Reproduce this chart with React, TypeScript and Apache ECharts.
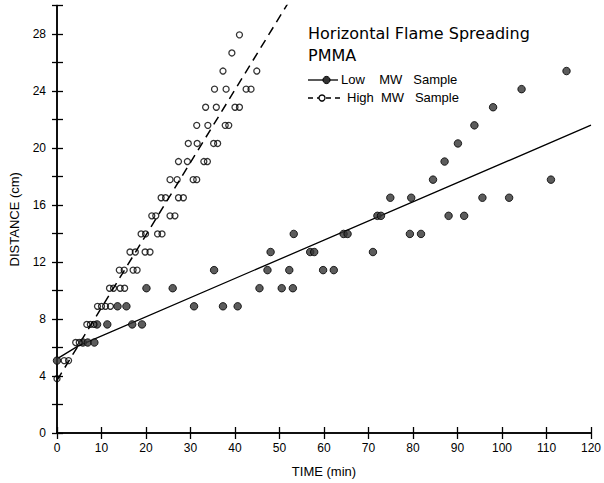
import React, { useEffect, useRef } from "react";
import * as echarts from "echarts";

// Low MW sample (filled circles): [time (min), distance (cm)]
const lowMW: number[][] = [
  [0, 5.08],
  [5.8, 6.35], [6.9, 6.35], [8.4, 6.35],
  [9.0, 7.62], [11.3, 7.62], [16.9, 7.62], [19.1, 7.62],
  [13.6, 8.89], [15.6, 8.89], [30.8, 8.89], [37.3, 8.89], [40.6, 8.89],
  [20.1, 10.16], [26.0, 10.16], [45.5, 10.16], [50.5, 10.16], [53.0, 10.16],
  [35.3, 11.43], [47.3, 11.43], [52.2, 11.43], [59.8, 11.43], [62.2, 11.43],
  [48.0, 12.7], [56.9, 12.7], [57.8, 12.7], [71.0, 12.7],
  [53.2, 13.97], [64.4, 13.97], [65.3, 13.97], [79.3, 13.97], [81.8, 13.97],
  [72.0, 15.24], [72.8, 15.24], [88.0, 15.24], [91.5, 15.24],
  [74.9, 16.51], [79.6, 16.51], [95.6, 16.51], [101.6, 16.51],
  [84.5, 17.78], [111.0, 17.78],
  [87.1, 19.05],
  [90.1, 20.32],
  [93.8, 21.59],
  [98.0, 22.86],
  [104.4, 24.13],
  [114.5, 25.4],
];

// High MW sample (open circles): [time (min), distance (cm)]
const highMW: number[][] = [
  [0, 3.81],
  [1.6, 5.08], [2.6, 5.08],
  [4.2, 6.35], [5.0, 6.35],
  [6.7, 7.62], [7.5, 7.62], [8.3, 7.62],
  [9.1, 8.89], [10.0, 8.89], [10.9, 8.89], [12.0, 8.89],
  [11.8, 10.16], [12.7, 10.16], [14.2, 10.16], [15.2, 10.16],
  [14.0, 11.43], [15.1, 11.43], [17.1, 11.43], [18.0, 11.43],
  [16.4, 12.7], [17.6, 12.7], [19.8, 12.7], [20.9, 12.7],
  [18.9, 13.97], [19.9, 13.97], [22.6, 13.97], [23.6, 13.97],
  [21.3, 15.24], [22.2, 15.24], [25.4, 15.24], [26.5, 15.24],
  [23.4, 16.51], [24.4, 16.51], [27.3, 16.51], [28.4, 16.51],
  [25.4, 17.78], [27.0, 17.78], [30.6, 17.78], [31.4, 17.78],
  [27.3, 19.05], [29.3, 19.05], [33.0, 19.05], [33.8, 19.05],
  [29.5, 20.32], [31.5, 20.32], [35.2, 20.32], [36.1, 20.32],
  [31.4, 21.59], [33.9, 21.59], [37.8, 21.59], [38.6, 21.59],
  [33.4, 22.86], [35.8, 22.86], [40.0, 22.86], [41.0, 22.86],
  [35.4, 24.13], [38.0, 24.13], [42.5, 24.13], [43.6, 24.13],
  [37.3, 25.4], [44.9, 25.4],
  [39.3, 26.67],
  [41.0, 27.94],
];

// Fitted lines
const lowFit: number[][] = [[0, 5.2], [4.7, 6.1], [120, 21.6]];
const highFit: number[][] = [[0, 3.7], [52.5, 30.46]];

const xTicks = { min: 0, max: 120, interval: 10 };
const yTicks = { min: 0, max: 30, interval: 2, labelEvery: 4 };

const titleLines = ["Horizontal Flame Spreading", "PMMA"];
const legendNames = ["Low    MW   Sample", "High  MW   Sample"];
const axisNames = { x: "TIME (min)", y: "DISTANCE (cm)" };

export default function App() {
  const ref = useRef<HTMLDivElement>(null);
  useEffect(() => {
    if (!ref.current) return;
    const chart = echarts.init(ref.current, undefined, { renderer: "svg" });
    const font = "Liberation Sans, Arial, Helvetica, sans-serif";
    const axisCommon = {
      axisLine: { show: true, lineStyle: { color: "#000", width: 1.5 } },
      splitLine: { show: false },
    };
    chart.setOption({
      animation: false,
      backgroundColor: "#fff",
      grid: { left: 54, right: 10, top: 5.5, bottom: 46.5 },
      xAxis: [
        {
          type: "value",
          position: "bottom",
          ...xTicks,
          ...axisCommon,
          axisTick: { show: true, inside: true, length: 6, lineStyle: { color: "#000", width: 1.3 } },
          axisLabel: { color: "#000", fontSize: 12, fontFamily: font, margin: 9 },
          name: axisNames.x,
          nameLocation: "middle",
          nameGap: 32,
          nameTextStyle: { color: "#000", fontSize: 13, fontFamily: font },
        },
        {
          type: "value",
          position: "top",
          ...xTicks,
          ...axisCommon,
          axisTick: { show: true, inside: true, length: 6, lineStyle: { color: "#000", width: 1.3 } },
          axisLabel: { show: false },
        },
      ],
      yAxis: [
        {
          type: "value",
          position: "left",
          min: yTicks.min,
          max: yTicks.max,
          interval: yTicks.interval,
          ...axisCommon,
          axisTick: { show: true, inside: true, length: 6, lineStyle: { color: "#000", width: 1.3 } },
          axisLabel: {
            color: "#000",
            fontSize: 12,
            fontFamily: font,
            margin: 11,
            formatter: (v: number) => (v % yTicks.labelEvery === 0 ? String(v) : ""),
          },
          name: axisNames.y,
          nameLocation: "middle",
          nameGap: 36,
          nameRotate: 90,
          nameTextStyle: { color: "#000", fontSize: 13, fontFamily: font },
        },
        {
          type: "value",
          position: "right",
          min: yTicks.min,
          max: yTicks.max,
          interval: yTicks.interval,
          ...axisCommon,
          axisTick: { show: true, inside: true, length: 5, lineStyle: { color: "#000", width: 1.3 } },
          axisLabel: { show: false },
        },
      ],
      series: [
        {
          type: "line",
          data: lowFit,
          showSymbol: false,
          symbol: "none",
          lineStyle: { color: "#000", width: 1.3 },
          z: 2,
        },
        {
          type: "line",
          data: highFit,
          showSymbol: false,
          symbol: "none",
          lineStyle: { color: "#000", width: 1.5, type: [9, 6] },
          z: 2,
        },
        {
          name: legendNames[0],
          type: "scatter",
          data: lowMW,
          symbol: "circle",
          symbolSize: 7.5,
          itemStyle: { color: "#333", borderColor: "#000", borderWidth: 1 },
          z: 3,
        },
        {
          name: legendNames[1],
          type: "scatter",
          data: highMW,
          symbol: "circle",
          symbolSize: 6,
          itemStyle: { color: "rgba(255,255,255,0)", borderColor: "#000", borderWidth: 1.3 },
          z: 3,
        },
      ],
      graphic: [
        {
          type: "text",
          left: 308,
          top: 25,
          style: { text: titleLines[0], fill: "#000", font: "16px 'DejaVu Sans', sans-serif" },
        },
        {
          type: "text",
          left: 308,
          top: 47,
          style: { text: titleLines[1], fill: "#000", font: "16px 'DejaVu Sans', sans-serif" },
        },
        {
          type: "line",
          shape: { x1: 308, y1: 80, x2: 338, y2: 80 },
          style: { stroke: "#000", lineWidth: 1.3 },
        },
        {
          type: "circle",
          shape: { cx: 326.5, cy: 80, r: 3.6 },
          style: { fill: "#333", stroke: "#000", lineWidth: 1 },
        },
        {
          type: "text",
          left: 341,
          top: 73,
          style: { text: legendNames[0], fill: "#000", font: "13px 'Liberation Sans', Arial, sans-serif" },
        },
        {
          type: "line",
          shape: { x1: 308, y1: 98, x2: 340, y2: 98 },
          style: { stroke: "#000", lineWidth: 1.3, lineDash: [5, 4] },
        },
        {
          type: "circle",
          shape: { cx: 322, cy: 98, r: 3 },
          style: { fill: "#fff", stroke: "#000", lineWidth: 1.3 },
        },
        {
          type: "text",
          left: 347,
          top: 91,
          style: { text: legendNames[1], fill: "#000", font: "13px 'Liberation Sans', Arial, sans-serif" },
        },
      ],
    });
    return () => chart.dispose();
  }, []);
  return (
    <div
      ref={ref}
      style={{ position: "absolute", left: 0, top: 0, width: 604, height: 483 }}
    />
  );
}
